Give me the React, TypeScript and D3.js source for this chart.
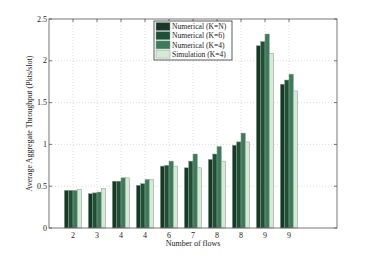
import React from 'react';
import * as d3 from 'd3';

// Chart data
const categories = ['2', '3', '4', '4', '6', '7', '8', '8', '9', '9'];
const seriesNames = ['Numerical (K=N)', 'Numerical (K=6)', 'Numerical (K=4)', 'Simulation (K=4)'];
const kN = [0.45, 0.41, 0.56, 0.51, 0.74, 0.72, 0.82, 0.99, 2.18, 1.72];
const k6 = [0.45, 0.42, 0.56, 0.53, 0.75, 0.8, 0.885, 1.03, 2.23, 1.77];
const k4 = [0.45, 0.43, 0.6, 0.58, 0.8, 0.885, 0.975, 1.135, 2.32, 1.84];
const sim = [0.46, 0.47, 0.6, 0.58, 0.74, 0.72, 0.8, 1.03, 2.09, 1.64];
const yTicks = [0, 0.5, 1, 1.5, 2, 2.5];

const colors = ['#173727', '#1d5035', '#3d7b5c', '#d6e9d6'];
const series = [kN, k6, k4, sim];

const W = 373;
const H = 257;
const margin = { top: 19, right: 36, bottom: 29, left: 49 };
const font = '"Liberation Serif", "Times New Roman", serif';

const App: React.FC = () => {
  const innerW = W - margin.left - margin.right;
  const innerH = H - margin.top - margin.bottom;

  const x = d3.scaleLinear().domain([0, 12]).range([0, innerW]);
  const y = d3.scaleLinear().domain([0, 2.5]).range([innerH, 0]);
  const barW = (x(1) - x(0)) * 0.18;

  return (
    <svg
      width={W}
      height={H}
      style={{ position: 'absolute', left: 0, top: 0, background: '#fff' }}
      fontFamily={font}
    >
      <g transform={`translate(${margin.left},${margin.top})`}>
        {/* grid */}
        {yTicks.slice(1, -1).map((t) => (
          <line key={'gy' + t} x1={0} x2={innerW} y1={y(t)} y2={y(t)} stroke="#cfcfcf" strokeWidth={0.7} strokeDasharray="1,2" />
        ))}
        {categories.map((_, i) => (
          <line key={'gx' + i} x1={x(i + 1)} x2={x(i + 1)} y1={0} y2={innerH} stroke="#cfcfcf" strokeWidth={0.7} strokeDasharray="1,2" />
        ))}

        {/* bars */}
        {categories.map((_, i) =>
          series.map((s, j) => (
            <rect
              key={`b${i}-${j}`}
              x={x(i + 1) - 2 * barW + j * barW}
              y={y(s[i])}
              width={barW}
              height={innerH - y(s[i])}
              fill={colors[j]}
              stroke="#8a9a8f"
              strokeWidth={0.5}
            />
          ))
        )}

        {/* frame */}
        <rect x={0} y={0} width={innerW} height={innerH} fill="none" stroke="#555" strokeWidth={0.8} />

        {/* ticks */}
        {yTicks.map((t) => (
          <g key={'yt' + t}>
            <line x1={0} x2={3} y1={y(t)} y2={y(t)} stroke="#555" strokeWidth={0.8} />
            <line x1={innerW - 3} x2={innerW} y1={y(t)} y2={y(t)} stroke="#555" strokeWidth={0.8} />
            <text x={-2} y={y(t)} dy="0.32em" textAnchor="end" fontSize={8} fill="#222">
              {t}
            </text>
          </g>
        ))}
        {categories.map((c, i) => (
          <g key={'xt' + i}>
            <line x1={x(i + 1)} x2={x(i + 1)} y1={innerH} y2={innerH - 3} stroke="#555" strokeWidth={0.8} />
            <line x1={x(i + 1)} x2={x(i + 1)} y1={0} y2={3} stroke="#555" strokeWidth={0.8} />
            <text x={x(i + 1)} y={innerH + 10} textAnchor="middle" fontSize={8} fill="#222">
              {c}
            </text>
          </g>
        ))}

        {/* axis labels */}
        <text x={x(6)} y={innerH + 18} textAnchor="middle" fontSize={8} fill="#222">
          Number of flows
        </text>
        <text
          transform={`translate(${-17},${innerH / 2}) rotate(-90)`}
          textAnchor="middle"
          fontSize={8}
          fill="#222"
        >
          Average Aggregate Throughput (Pkts/slot)
        </text>

        {/* legend */}
        <g transform={`translate(${154 - margin.left},${21 - margin.top})`}>
          <rect x={0} y={0} width={78} height={39} fill="#fff" stroke="#333" strokeWidth={0.8} />
          {seriesNames.map((n, j) => (
            <g key={n} transform={`translate(2,${1.5 + j * 9.2})`}>
              <rect x={0} y={0} width={14} height={8} fill={colors[j]} stroke="#8a9a8f" strokeWidth={0.5} />
              <text x={16} y={4} dy="0.35em" fontSize={7.6} fill="#222">
                {n}
              </text>
            </g>
          ))}
        </g>
      </g>
    </svg>
  );
};

export default App;
